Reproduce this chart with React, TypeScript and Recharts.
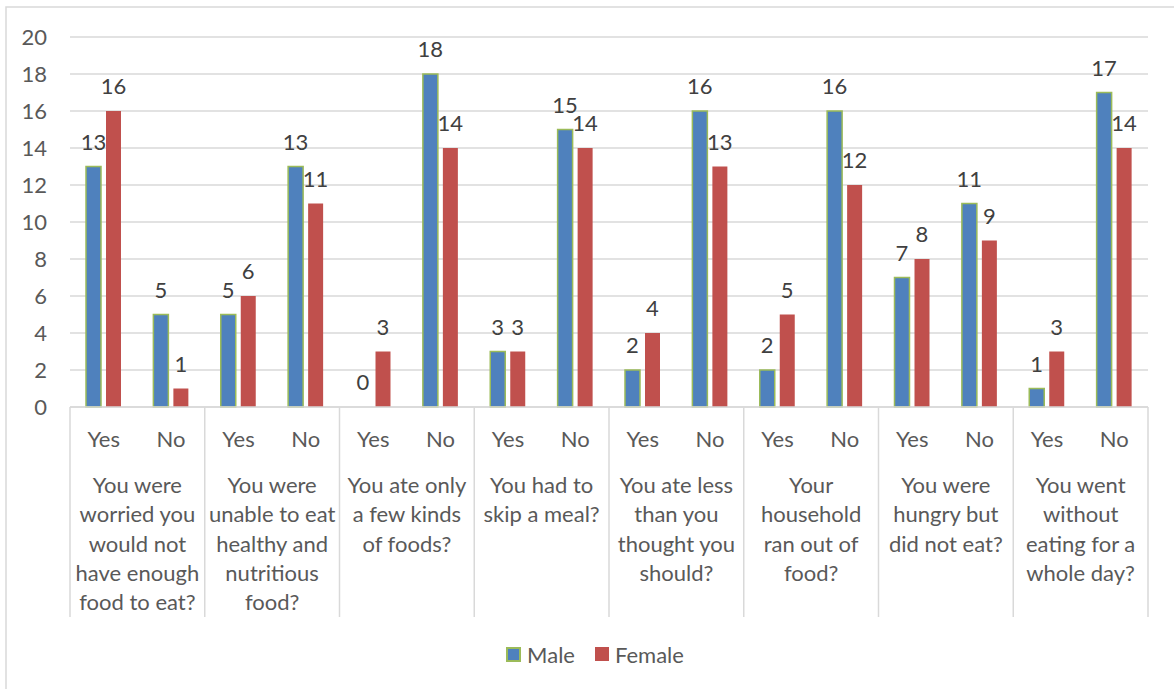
import React from "react";
import { BarChart, Bar, XAxis, YAxis, CartesianGrid, LabelList, Legend, Customized, Rectangle } from "recharts";

const answers = ["Yes", "No", "Yes", "No", "Yes", "No", "Yes", "No", "Yes", "No", "Yes", "No", "Yes", "No", "Yes", "No"];
const maleValues = [13, 5, 5, 13, 0, 18, 3, 15, 2, 16, 2, 16, 7, 11, 1, 17];
const femaleValues = [16, 1, 6, 11, 3, 14, 3, 14, 4, 13, 5, 12, 8, 9, 3, 14];
const groupLabels = [
  ["You were", "worried you", "would not", "have enough", "food to eat?"],
  ["You were", "unable to eat", "healthy and", "nutritious", "food?"],
  ["You ate only", "a few kinds", "of foods?"],
  ["You had to", "skip a meal?"],
  ["You ate less", "than you", "thought you", "should?"],
  ["Your", "household", "ran out of", "food?"],
  ["You were", "hungry but", "did not eat?"],
  ["You went", "without", "eating for a", "whole day?"],
];
const yTicks = [0, 2, 4, 6, 8, 10, 12, 14, 16, 18, 20];

const data = answers.map((a, i) => ({
  key: `${i}`,
  answer: a,
  Male: maleValues[i],
  Female: femaleValues[i],
}));

const W = 1174;
const H = 689;
const M = { top: 37, right: 26, left: 0, bottom: 15 };
const Y_AXIS_W = 70;
const FONT = "Lato, 'Open Sans', sans-serif";
const TEXT = "#595959";
const GRID = "#d9d9d9";
const FS = 22;
const CAT_W = (W - M.right - Y_AXIS_W) / answers.length;

const XTick = (props: any) => {
  const { x, y, index } = props;
  const i = index as number;
  const els: any[] = [];
  els.push(
    <text key="a" x={x} y={y + 40} textAnchor="middle" fill={TEXT} fontSize={FS} fontFamily={FONT}>
      {answers[i]}
    </text>
  );
  if (i % 2 === 0) {
    const gx = x + CAT_W / 2;
    const lines = groupLabels[i / 2];
    lines.forEach((l, k) => {
      els.push(
        <text key={"g" + k} x={gx} y={y + 86 + k * 29.3} textAnchor="middle" fill={TEXT} fontSize={FS} fontFamily={FONT}>
          {l}
        </text>
      );
    });
    els.push(<line key="s" x1={x - CAT_W / 2} x2={x - CAT_W / 2} y1={y} y2={y + 210} stroke={GRID} strokeWidth={1.5} />);
  }
  if (i === answers.length - 1) {
    els.push(<line key="e" x1={x + CAT_W / 2} x2={x + CAT_W / 2} y1={y} y2={y + 210} stroke={GRID} strokeWidth={1.5} />);
  }
  return <g>{els}</g>;
};

const LegendContent = () => (
  <div style={{ display: "flex", justifyContent: "center", alignItems: "center", paddingLeft: 42, fontFamily: FONT, fontSize: FS, color: TEXT, height: 40 }}>
    <span style={{ display: "inline-block", width: 11, height: 11, background: "#4f81bd", border: "2px solid #9bbb59", marginRight: 6 }} />
    <span style={{ marginRight: 20 }}>Male</span>
    <span style={{ display: "inline-block", width: 14, height: 14, background: "#c0504d", marginRight: 6 }} />
    <span>Female</span>
  </div>
);

const Border = () => <rect x={6} y={7} width={W} height={H} fill="none" stroke={GRID} strokeWidth={1.5} />;

const MaleShape = (props: any) => {
  if (!props.value && props.value !== undefined && props.Male === 0) return <g />;
  if (props.Male === 0 || (props.payload && props.payload.Male === 0)) return <g />;
  return <Rectangle {...props} />;
};

export default function App() {
  return (
    <div style={{ position: "absolute", left: 0, top: 0, width: W, height: H, background: "#fff" }}>
      <BarChart width={W} height={H} data={data} margin={M} barSize={15} barGap={5} barCategoryGap={0}>
        <Customized component={Border} />
        <CartesianGrid vertical={false} stroke={GRID} strokeWidth={1.5} />
        <XAxis
          dataKey="key"
          height={227}
          interval={0}
          tickLine={false}
          tickSize={0}
          tickMargin={0}
          axisLine={{ stroke: GRID, strokeWidth: 1.5 }}
          tick={<XTick />}
        />
        <YAxis
          width={Y_AXIS_W}
          domain={[0, 20]}
          ticks={yTicks}
          interval={0}
          axisLine={false}
          tickLine={false}
          tickSize={6}
          tickMargin={17}
          tick={{ fill: TEXT, fontSize: FS, fontFamily: FONT }}
        />
        <Legend verticalAlign="bottom" height={40} content={<LegendContent />} />
        <Bar
          dataKey="Male"
          fill="#4f81bd"
          stroke="#9bbb59"
          strokeWidth={1.5}
          minPointSize={0.01}
          shape={<MaleShape />}
          isAnimationActive={false}
        >
          <LabelList dataKey="Male" position="top" offset={17} fill="#404040" fontSize={FS} fontFamily={FONT} />
        </Bar>
        <Bar dataKey="Female" fill="#c0504d" isAnimationActive={false}>
          <LabelList dataKey="Female" position="top" offset={17} fill="#404040" fontSize={FS} fontFamily={FONT} />
        </Bar>
      </BarChart>
    </div>
  );
}
